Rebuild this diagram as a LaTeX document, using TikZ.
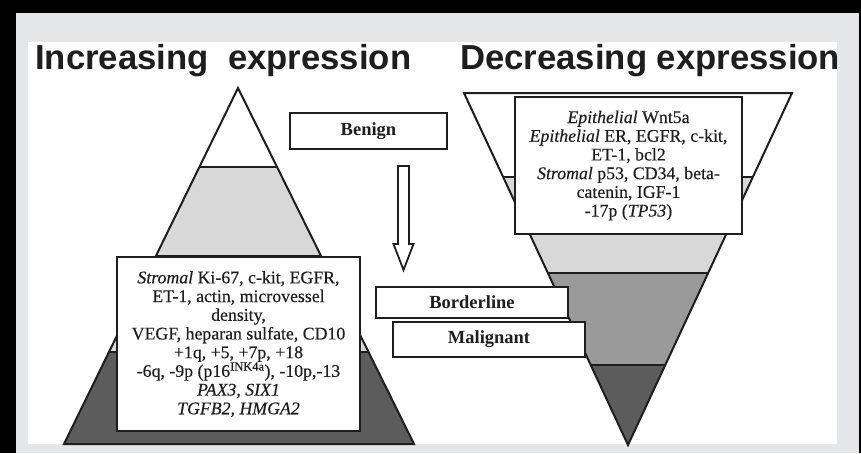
\documentclass[tikz,border=0pt]{standalone}
\usepackage{fontspec}
\setmainfont{Liberation Serif}
\newfontfamily\titlefont{Liberation Sans}
\newfontfamily\boxfont[FakeBold=0.35]{Liberation Serif}
\definecolor{panelgrey}{HTML}{E5E6E8}
\definecolor{lightband}{HTML}{D8D8D8}
\definecolor{midband}{HTML}{9A9A9A}
\definecolor{darkband}{HTML}{5C5C5C}
\definecolor{inkdark}{HTML}{1E1E1E}
\begin{document}
\begin{tikzpicture}[x=1pt,y=-1pt,
  titlestyle/.style={font=\titlefont\bfseries\fontsize{34.7}{36}\selectfont, text=inkdark, inner sep=0pt},
  pyr/.style={draw=inkdark, line width=2pt, line join=miter},
  bandline/.style={draw=inkdark, line width=2pt},
  textbox/.style={draw=inkdark, fill=white, line width=2.2pt, align=center, inner sep=0pt,
    font=\boxfont\fontsize{17.8}{18.7}\selectfont, text=inkdark},
  labelbox/.style={draw=inkdark, fill=white, line width=2.2pt, inner sep=0pt,
    font=\bfseries\fontsize{18.5}{20}\selectfont, text=inkdark},
  blockarrow/.style={draw=inkdark, fill=white, line width=1.8pt, line join=miter}
]
\useasboundingbox (0,0) rectangle (861,453);
% frame
\fill[black] (0,0) rectangle (861,453);
\fill[panelgrey] (16,13) rectangle (859,453);
\fill[white] (28,42) rectangle (837,444);

% titles
\node[titlestyle, anchor=base west] (inc) at (35,69) {Increasing\ \ expression};
\node[titlestyle, anchor=base west] (dec) at (460,69) {Decreasing expression};

% left pyramid
\coordinate (LA) at (238,88);
\coordinate (LL) at (64,444);
\coordinate (LR) at (414,444);
\begin{scope}
  \clip (LA) -- (LL) -- (LR) -- cycle;
  \fill[white] (0,80) rectangle (861,167);
  \fill[lightband] (0,167) rectangle (861,352);
  \fill[darkband] (0,352) rectangle (861,450);
  \draw[bandline] (0,167) -- (861,167);
  \draw[bandline] (0,256) -- (861,256);
  \draw[bandline] (0,352) -- (861,352);
\end{scope}
\draw[pyr] (LA) -- (LL) -- (LR) -- cycle;

% right inverted pyramid
\coordinate (RL) at (464,93);
\coordinate (RR) at (792,93);
\coordinate (RT) at (628,445);
\begin{scope}
  \clip (RL) -- (RR) -- (RT) -- cycle;
  \fill[white] (0,80) rectangle (861,177);
  \fill[lightband] (0,177) rectangle (861,273);
  \fill[midband] (0,273) rectangle (861,365);
  \fill[darkband] (0,365) rectangle (861,450);
  \draw[bandline] (0,177) -- (861,177);
  \draw[bandline] (0,273) -- (861,273);
  \draw[bandline] (0,365) -- (861,365);
\end{scope}
\draw[pyr] (RL) -- (RR) -- (RT) -- cycle;

% text boxes
\node[textbox, minimum width=243, minimum height=174] (lbox) at (238.5,344) {%
\textit{Stromal} Ki-67, c-kit, EGFR,\\
ET-1, actin, microvessel\\
density,\\
VEGF, heparan sulfate, CD10\\
+1q, +5, +7p, +18\\
-6q, -9p (p16\textsuperscript{INK4a}), -10p,-13\\
\textit{PAX3, SIX1}\\
\textit{TGFB2, HMGA2}};

\node[textbox, minimum width=227, minimum height=137] (rbox) at (628.5,165.5) {%
\textit{Epithelial} Wnt5a\\
\textit{Epithelial} ER, EGFR, c-kit,\\
ET-1, bcl2\\
\textit{Stromal} p53, CD34, beta-\\
catenin, IGF-1\\
-17p (\textit{TP53})};

% stage labels
\node[labelbox, minimum width=157, minimum height=36] (benign) at (368.5,131) {Benign};
\node[labelbox, minimum width=192, minimum height=31] (border) at (472,302.5) {Borderline};
\node[labelbox, minimum width=192, minimum height=35] (malig) at (489,339.5) {Malignant};

% hollow block arrow from Benign towards Borderline
\coordinate (arrtop) at (403.5,166);
\coordinate (arrtip) at (403.5,270);
\draw[blockarrow] ([xshift=-5.5pt]arrtop) -- ([xshift=5.5pt]arrtop)
  -- ([xshift=5.5pt,yshift=26pt]arrtip) -- ([xshift=10pt,yshift=26pt]arrtip)
  -- (arrtip) -- ([xshift=-10pt,yshift=26pt]arrtip)
  -- ([xshift=-5.5pt,yshift=26pt]arrtip) -- cycle;
\end{tikzpicture}
\end{document}
